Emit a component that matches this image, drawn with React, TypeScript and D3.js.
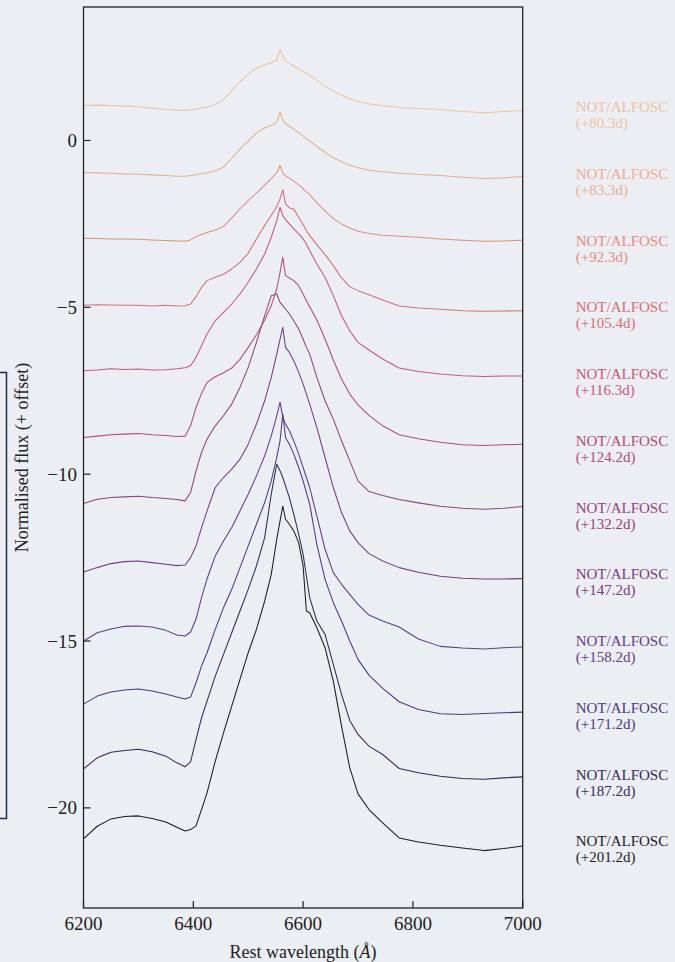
import React from 'react';
import * as d3 from 'd3';

// wavelength grid (Angstrom), shared by all spectra
const wave = [6200, 6225, 6250, 6275, 6300, 6325, 6350, 6370, 6385, 6395, 6405, 6415, 6425, 6440, 6455, 6470, 6485, 6500, 6515, 6530, 6542, 6552, 6558, 6563, 6568, 6575, 6583, 6592, 6600, 6606, 6612, 6625, 6640, 6655, 6670, 6685, 6700, 6720, 6745, 6775, 6810, 6850, 6890, 6930, 6965, 7000];

const epochs = ['+80.3d', '+83.3d', '+92.3d', '+105.4d', '+116.3d', '+124.2d', '+132.2d', '+147.2d', '+158.2d', '+171.2d', '+187.2d', '+201.2d'];
const offsets = [0, -2, -4, -6, -8, -10, -12, -14, -16, -18, -20, -22];

// normalised flux per epoch (before offset)
const flux080 = [1.05, 1.06, 1.05, 1.03, 1.01, 0.97, 0.93, 0.91, 0.90, 0.92, 0.94, 0.97, 1.00, 1.08, 1.22, 1.50, 1.76, 1.98, 2.16, 2.27, 2.33, 2.42, 2.72, 2.50, 2.38, 2.31, 2.23, 2.14, 2.07, 2.02, 1.96, 1.80, 1.63, 1.48, 1.36, 1.25, 1.17, 1.10, 1.04, 0.99, 0.96, 0.93, 0.87, 0.83, 0.87, 0.90];
const flux083 = [1.04, 1.03, 1.02, 1.00, 0.99, 0.97, 0.95, 0.93, 0.93, 0.95, 0.97, 1.00, 1.03, 1.09, 1.20, 1.46, 1.74, 1.98, 2.22, 2.38, 2.45, 2.55, 2.84, 2.62, 2.50, 2.42, 2.34, 2.23, 2.13, 2.06, 1.99, 1.82, 1.64, 1.48, 1.36, 1.26, 1.18, 1.11, 1.06, 1.02, 0.98, 0.95, 0.90, 0.86, 0.88, 0.92];
const flux092 = [1.07, 1.06, 1.05, 1.05, 1.04, 1.02, 1.00, 0.99, 0.98, 1.02, 1.12, 1.18, 1.24, 1.32, 1.42, 1.68, 1.95, 2.20, 2.42, 2.66, 2.86, 3.04, 3.24, 3.02, 2.94, 2.88, 2.78, 2.66, 2.56, 2.46, 2.38, 2.14, 1.88, 1.66, 1.50, 1.38, 1.28, 1.21, 1.16, 1.13, 1.10, 1.05, 1.01, 0.98, 0.99, 1.01];
const flux105 = [1.06, 1.08, 1.07, 1.06, 1.06, 1.04, 1.06, 1.04, 1.05, 1.10, 1.32, 1.60, 1.80, 1.90, 1.99, 2.15, 2.35, 2.62, 3.05, 3.45, 3.75, 4.02, 4.25, 4.53, 4.10, 3.98, 3.95, 3.70, 3.48, 3.30, 3.15, 2.88, 2.58, 2.25, 1.88, 1.62, 1.50, 1.38, 1.22, 1.04, 0.98, 0.94, 0.90, 0.88, 0.89, 0.90];
const flux116 = [1.10, 1.12, 1.16, 1.14, 1.15, 1.12, 1.13, 1.16, 1.19, 1.25, 1.50, 1.85, 2.20, 2.60, 2.85, 3.10, 3.40, 3.75, 4.15, 4.60, 5.10, 5.60, 6.00, 5.75, 5.62, 5.50, 5.35, 5.20, 5.05, 4.90, 4.70, 4.30, 3.90, 3.35, 2.75, 2.30, 1.95, 1.72, 1.45, 1.18, 1.08, 1.00, 0.95, 0.93, 0.94, 0.94];
const flux124 = [1.10, 1.14, 1.18, 1.20, 1.22, 1.18, 1.16, 1.13, 1.14, 1.45, 2.00, 2.42, 2.75, 2.92, 3.04, 3.18, 3.44, 3.80, 4.18, 4.62, 5.05, 5.55, 6.05, 6.50, 5.95, 5.88, 5.80, 5.65, 5.40, 5.20, 5.02, 4.62, 4.05, 3.42, 2.85, 2.40, 2.08, 1.76, 1.45, 1.18, 1.06, 0.96, 0.88, 0.86, 0.88, 0.90];
const flux132 = [1.12, 1.25, 1.30, 1.32, 1.34, 1.30, 1.27, 1.24, 1.20, 1.45, 2.10, 2.65, 3.05, 3.45, 3.75, 4.10, 4.60, 5.20, 5.95, 6.75, 7.35, 7.40, 7.15, 7.05, 6.95, 6.80, 6.60, 6.35, 6.05, 5.80, 5.60, 4.90, 4.20, 3.65, 3.00, 2.40, 1.80, 1.48, 1.36, 1.24, 1.14, 1.04, 0.98, 0.95, 0.98, 1.03];
const flux147 = [1.07, 1.20, 1.32, 1.38, 1.40, 1.35, 1.30, 1.26, 1.28, 1.50, 1.85, 2.40, 2.90, 3.60, 3.90, 4.15, 4.45, 4.90, 5.50, 6.20, 6.90, 7.60, 8.05, 8.40, 7.80, 7.65, 7.40, 7.05, 6.70, 6.40, 6.10, 5.40, 4.50, 3.60, 2.85, 2.30, 1.95, 1.62, 1.40, 1.20, 1.06, 0.94, 0.88, 0.86, 0.86, 0.87];
const flux158 = [1.00, 1.25, 1.36, 1.44, 1.45, 1.42, 1.32, 1.18, 1.15, 1.27, 1.66, 2.30, 2.86, 3.55, 4.00, 4.40, 4.90, 5.40, 5.95, 6.55, 7.15, 7.75, 8.16, 7.70, 7.50, 7.30, 7.00, 6.60, 6.20, 5.90, 5.60, 4.75, 3.75, 3.05, 2.70, 2.40, 2.10, 1.78, 1.60, 1.42, 1.06, 0.84, 0.79, 0.76, 0.80, 0.82];
const flux171 = [1.11, 1.35, 1.47, 1.53, 1.56, 1.50, 1.41, 1.32, 1.26, 1.32, 1.75, 2.25, 2.65, 3.35, 4.00, 4.55, 5.20, 5.85, 6.50, 7.15, 7.80, 8.50, 9.00, 9.80, 9.10, 8.90, 8.60, 8.20, 7.80, 7.45, 7.10, 5.90, 4.85, 4.15, 3.60, 3.00, 2.45, 1.98, 1.58, 1.18, 0.95, 0.82, 0.80, 0.83, 0.85, 0.87];
const flux187 = [1.17, 1.50, 1.67, 1.72, 1.76, 1.68, 1.55, 1.35, 1.23, 1.38, 2.05, 2.70, 3.20, 3.95, 4.60, 5.25, 5.90, 6.55, 7.25, 8.10, 9.40, 10.30, 10.10, 9.90, 9.65, 9.30, 8.80, 8.20, 7.60, 6.95, 6.30, 5.60, 5.20, 4.30, 3.40, 2.62, 2.20, 1.85, 1.60, 1.18, 1.05, 0.95, 0.88, 0.86, 0.90, 0.93];
const flux201 = [1.07, 1.45, 1.67, 1.74, 1.76, 1.68, 1.58, 1.42, 1.31, 1.35, 1.46, 1.95, 2.45, 3.40, 4.25, 5.05, 5.85, 6.65, 7.35, 8.20, 9.00, 10.05, 10.60, 11.04, 10.65, 10.50, 10.30, 9.95, 9.25, 7.90, 7.85, 7.40, 6.80, 5.80, 4.45, 3.20, 2.42, 1.95, 1.55, 1.10, 0.98, 0.88, 0.80, 0.72, 0.78, 0.86];

const spectra = [flux080, flux083, flux092, flux105, flux116, flux124, flux132, flux147, flux158, flux171, flux187, flux201];

const xTicks = [6200, 6400, 6600, 6800, 7000];
const yTicks = [0, -5, -10, -15, -20];

const colors = ['#f3c29c', '#efad8b', '#e88b7c', '#dc6c76', '#cb5676', '#b44a78', '#97407b', '#7b3a81', '#633a89', '#4e3782', '#33295a', '#1c1c1e'];

const W = 675;
const H = 962;
const bg = '#ebeef3';
const font = '"Liberation Serif", "Times New Roman", serif';

export default function App() {
  const x = d3.scaleLinear().domain([6200, 7000]).range([83.5, 522.7]);
  const y = d3.scaleLinear().domain([-23, 4]).range([908, 7]);

  const line = d3.line<[number, number]>()
    .x(d => x(d[0]))
    .y(d => y(d[1]));

  return (
    <div style={{ position: 'absolute', left: 0, top: 0 }}>
      <svg width={W} height={H} style={{ display: 'block' }}>
        <rect x={0} y={0} width={W} height={H} fill={bg} />

        {/* bit of a neighbouring panel at the left edge */}
        <path d="M0,372.5H6.5V818.5H0" fill="none" stroke="#1e2d48" strokeWidth={1.5} />

        <g fill="none" strokeWidth={1.05} strokeLinejoin="round">
          {spectra.map((f, i) => (
            <path
              key={epochs[i]}
              d={line(wave.map((w, k) => [w, f[k] + offsets[i]]) as [number, number][]) || ''}
              stroke={colors[i]}
            />
          ))}
        </g>

        {/* frame */}
        <rect x={x(6200)} y={y(4)} width={x(7000) - x(6200)} height={y(-23) - y(4)}
          fill="none" stroke="#222" strokeWidth={1.3} />

        {xTicks.map(t => (
          <g key={'x' + t}>
            <line x1={x(t)} x2={x(t)} y1={y(-23)} y2={y(-23) - 7} stroke="#222" strokeWidth={1.2} />
            <text x={x(t)} y={930} textAnchor="middle" fontFamily={font} fontSize={19} fill="#222">{t}</text>
          </g>
        ))}
        {yTicks.map(t => (
          <g key={'y' + t}>
            <line x1={x(6200)} x2={x(6200) + 7} y1={y(t)} y2={y(t)} stroke="#222" strokeWidth={1.2} />
            <text x={77} y={y(t) + 6.5} textAnchor="end" fontFamily={font} fontSize={19} fill="#222">
              {t < 0 ? '\u2212' + Math.abs(t) : t}
            </text>
          </g>
        ))}

        <text x={(x(6200) + x(7000)) / 2} y={958} textAnchor="middle" fontFamily={font} fontSize={18} fill="#222">
          Rest wavelength (<tspan fontStyle="italic">Å</tspan>)
        </text>
        <text transform={`translate(28,${(y(4) + y(-23)) / 2}) rotate(-90)`} textAnchor="middle"
          fontFamily={font} fontSize={18} fill="#222">
          Normalised flux (+ offset)
        </text>

        {epochs.map((e, i) => (
          <text key={'l' + e} x={x(7000) + 53} y={y(1 + offsets[i]) + 5} fontFamily={font} fontSize={15} fill={colors[i]}>
            <tspan x={x(7000) + 53}>NOT/ALFOSC</tspan>
            <tspan x={x(7000) + 53} dy={16}>({e})</tspan>
          </text>
        ))}
      </svg>
    </div>
  );
}
